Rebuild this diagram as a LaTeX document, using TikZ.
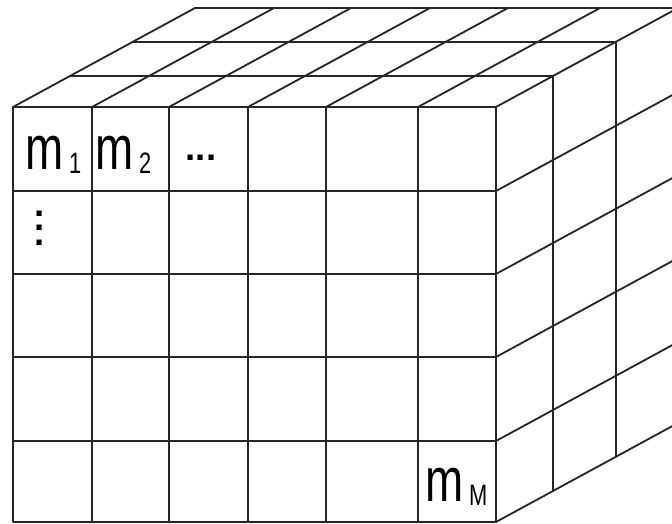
\documentclass[tikz,border=0pt]{standalone}
\usepackage{fontspec}
\setmainfont{Liberation Sans}
\newfontfamily\cellfont[FakeStretch=0.74]{Liberation Sans}
\usetikzlibrary{calc}
\tikzset{
    cubeline/.style={
        line width=1.3pt, draw=black!85
    },
    lab/.style={
        font=\cellfont\fontsize{44}{44}\selectfont,
        inner sep=0pt, anchor=base west
    },
    dotlab/.style={
        font=\bfseries\fontsize{26}{10.3}\selectfont,
        inner sep=0pt, align=center
    }
}
\newcommand{\subidx}[1]{\kern4pt\raisebox{-2.5pt}{\fontsize{21}{21}\selectfont #1}}

\begin{document}
\begin{tikzpicture}[x=0.025cm,y=0.025cm,line cap=round,line join=round]

% --- geometry (tuned to match the reference) ---
    \def\xl{13}   % front face, left
    \def\xr{496}  % front face, right
    \def\yb{2}    % front face, bottom
    \def\yt{417}  % front face, top
    \useasboundingbox (0,0) rectangle (672,524);
    \clip (0,0) rectangle (672,524);

% front face (6 x 5 cells)
    \draw[cubeline] (\xl,\yb) rectangle (\xr,\yt);
    \foreach \x in {92,169,248,326,418}
        \draw[cubeline] (\x,\yb) -- (\x,\yt);
    \foreach \y in {83,167,250,333}
        \draw[cubeline] (\xl,\y) -- (\xr,\y);

% top face: receding edges and depth layers
    \foreach \x in {13,92,169,248,326,418,496}
        \draw[cubeline] (\x,\yt) -- ++(182,99);
    \foreach \dx/\dy in {57/31,120/65,182/99}
        \draw[cubeline] (\xl+\dx,\yt+\dy) -- (\xr+\dx,\yt+\dy);

% right face: receding edges and depth layers
    \foreach \y in {2,83,167,250,333}
        \draw[cubeline] (\xr,\y) -- ++(182,99);
    \foreach \dx/\dy in {57/31,120/65}
        \draw[cubeline] (\xr+\dx,\yb+\dy) -- (\xr+\dx,\yt+\dy);

% cell labels
    \node[lab] (m1) at (25,354) {m\subidx{1}};
    \node[lab] (m2) at (95,354) {m\subidx{2}};
    \node[dotlab] (hdots) at (201,366) {...};
    \node[dotlab] (vdots) at (40,296) {.\\.\\.};
    \node[lab] (mM) at (425,22) {m\subidx{M}};

\end{tikzpicture}
\end{document}
